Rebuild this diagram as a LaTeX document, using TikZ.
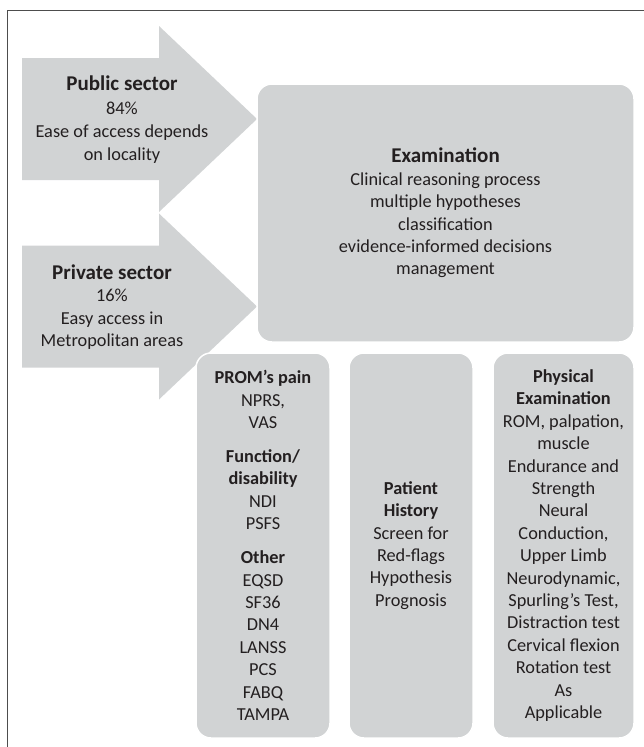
\documentclass[tikz,border=0pt]{standalone}
\usepackage{fontspec}
\setmainfont{Carlito}
\usepackage{tikz}
\usetikzlibrary{positioning}
\definecolor{boxgray}{HTML}{D1D3D4}
\definecolor{inkgray}{HTML}{231F20}
\definecolor{framegray}{HTML}{4D4D4D}
\tikzstyle{greybox}=[fill=boxgray,draw=white,line width=1.5pt,rounded corners=15pt,inner sep=0pt]
\tikzstyle{blurb}=[text=inkgray,align=center,font={\fontsize{18.3}{22.4}\selectfont}]
\tikzstyle{sector}=[fill=boxgray]
\newcommand{\bigtitle}[1]{{\fontsize{21}{22.4}\selectfont\bfseries #1}}

\begin{document}
\begin{tikzpicture}[x=1pt,y=-1pt]
    \useasboundingbox (0,0) rectangle (644,747);
    % outer frame
    \draw[framegray,line width=1pt] (7,747) -- (7,10) -- (644,10);
    % the two sector arrows
    \foreach \yc in {119,306.5}
        \fill[sector] (22,{\yc-61}) -- (159,{\yc-61}) -- (159,{\yc-93}) -- (257,\yc)
            -- (159,{\yc+93}) -- (159,{\yc+61}) -- (22,{\yc+61}) -- cycle;
    \node[blurb,font={\fontsize{18.3}{23}\selectfont}] (public) at (122,119.5)
        {\bigtitle{Public sector}\\[1.5pt]84\%\\Ease of access depends\\on locality};
    \node[blurb] (private) at (112,307)
        {\bigtitle{Private sector}\\[0.5pt]16\%\\Easy access in\\Metropolitan areas};
    % examination box
    \node[greybox,blurb,minimum width=377pt,minimum height=258pt] (exam) at (445.5,213)
        {\bigtitle{Examination}\\Clinical reasoning process\\multiple hypotheses\\classification\\evidence-informed decisions\\management};
    % lower boxes
    \node[greybox,blurb,minimum width=134pt,minimum height=385pt] (prom) at (263,545.5)
        {\textbf{PROM’s pain}\\NPRS,\\VAS\\[11.6pt]\textbf{Function/}\\\textbf{disability}\\NDI\\PSFS\\[11.6pt]\textbf{Other}\\EQSD\\SF36\\DN4\\LANSS\\PCS\\FABQ\\TAMPA};
    \node[greybox,blurb,minimum width=124pt,minimum height=385pt] (history) at (411,545.5)
        {\textbf{Patient}\\\textbf{History}\\Screen for\\Red-flags\\Hypothesis\\Prognosis};
    \node[greybox,blurb,minimum width=141pt,minimum height=385pt] (physical) at (563.5,545.5)
        {\textbf{Physical}\\\textbf{Examination}\\ROM, palpation,\\muscle\\Endurance and\\Strength\\Neural\\Conduction,\\Upper Limb\\Neurodynamic,\\Spurling’s Test,\\Distraction test\\Cervical flexion\\Rotation test\\As\\Applicable};
\end{tikzpicture}
\end{document}
